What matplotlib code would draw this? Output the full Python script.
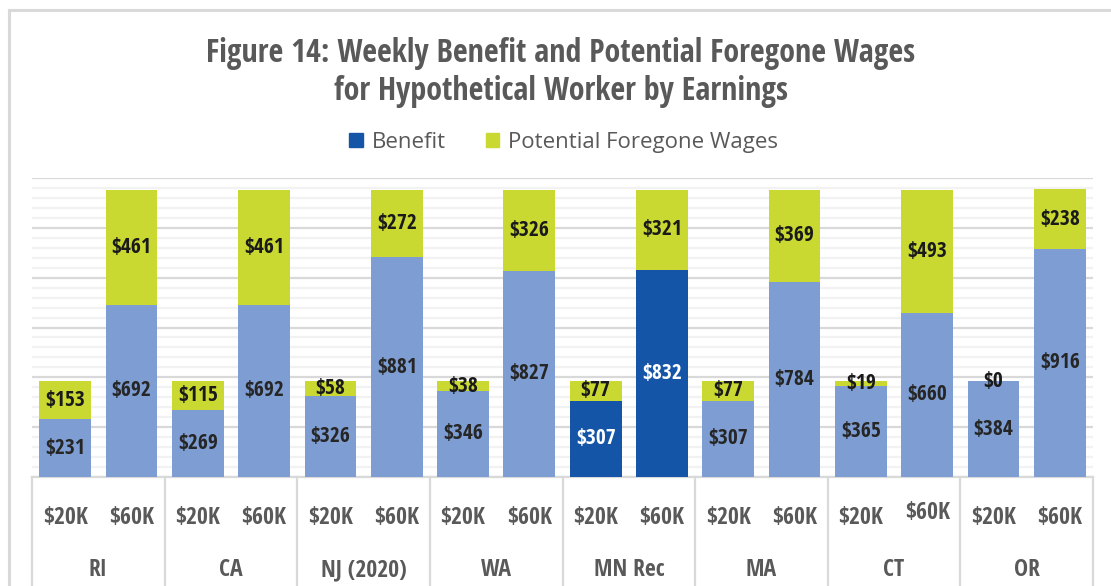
import numpy as np
import matplotlib.pyplot as plt
from matplotlib.transforms import blended_transform_factory
from matplotlib.lines import Line2D

states = ['RI', 'CA', 'NJ (2020)', 'WA', 'MN Rec', 'MA', 'CT', 'OR']
earnings = ['$20K', '$60K']
benefit = [231, 692, 269, 692, 326, 881, 346, 827, 307, 832, 307, 784, 365, 660, 384, 916]
foregone = [153, 461, 115, 461, 58, 272, 38, 326, 77, 321, 77, 369, 19, 493, 0, 238]

light_blue = '#7e9ed3'
dark_blue = '#1555a8'
green = '#c9d932'
gray_text = '#595959'
cond = ['Open Sans Condensed', 'DejaVu Sans']

fig = plt.figure(figsize=(11.11, 5.86), dpi=100)
ax = fig.add_axes([32 / 1111, 109 / 586, 1061 / 1111, 299 / 586])

x = np.arange(len(benefit))
ben_colors = [dark_blue if states[i // 2] == 'MN Rec' else light_blue for i in x]
ax.bar(x, benefit, width=0.78, color=ben_colors, zorder=3)
ax.bar(x, foregone, width=0.78, bottom=benefit, color=green, zorder=3)

for i in x:
    c = 'white' if states[i // 2] == 'MN Rec' else '#262626'
    ax.text(i, benefit[i] / 2, '$%d' % benefit[i], ha='center', va='center',
            family=cond, weight='bold', fontsize=15.5, color=c, zorder=4)
    ax.text(i, benefit[i] + foregone[i] / 2, '$%d' % foregone[i], ha='center',
            va='center', family=cond, weight='bold', fontsize=15.5,
            color='#1a1a1a', zorder=4)

ax.set_xlim(-0.5, len(benefit) - 0.5)
ax.set_ylim(0, 1200)
ax.set_yticks(np.arange(0, 1201, 200))
ax.set_yticks(np.arange(0, 1201, 40), minor=True)
ax.grid(axis='y', which='major', color='#d9d9d9', lw=1.6, zorder=0)
ax.grid(axis='y', which='minor', color='#f2f2f2', lw=1.6, zorder=0)
ax.tick_params(axis='y', which='both', left=False, labelleft=False)
ax.tick_params(axis='x', bottom=False, labelbottom=False)
for s in ['top', 'left', 'right']:
    ax.spines[s].set_visible(False)
ax.spines['bottom'].set_color('#d9d9d9')
ax.spines['bottom'].set_linewidth(1.6)

tr = blended_transform_factory(ax.transData, ax.transAxes)
for i in x:
    # CT $60K label sits a little higher in the original
    yy = -0.12 if i == 13 else -0.137
    ax.text(i, yy, earnings[i % 2], transform=tr, ha='center', va='center',
            family=cond, weight='bold', fontsize=17, color=gray_text)
for g, name in enumerate(states):
    ax.text(2 * g + 0.5, -0.311, name, transform=tr, ha='center', va='center',
            family=cond, weight='bold', fontsize=17, color=gray_text)
for b in np.arange(-0.5, len(benefit), 2):
    ax.add_line(Line2D([b, b], [0, -0.4], transform=tr, color='#d9d9d9',
                       lw=1.6, clip_on=False))

fig.add_artist(Line2D([9 / 1111, 9 / 1111], [0, 1 - 10 / 586], color='#d9d9d9', lw=2.2))
fig.add_artist(Line2D([9 / 1111, 1], [1 - 10 / 586, 1 - 10 / 586], color='#d9d9d9', lw=2.2))

fig.text(561 / 1111, 1 - 72 / 586,
         'Figure 14: Weekly Benefit and Potential Foregone Wages\nfor Hypothetical Worker by Earnings',
         ha='center', va='center', family=cond, weight='bold', fontsize=23,
         color=gray_text, linespacing=1.2)

handles = [plt.Rectangle((0, 0), 1, 1, color=dark_blue),
           plt.Rectangle((0, 0), 1, 1, color=green)]
fig.legend(handles, ['Benefit', 'Potential Foregone Wages'], loc='center',
           bbox_to_anchor=(563.5 / 1111, 1 - 142 / 586), ncol=2, frameon=False,
           prop={'family': 'Open Sans', 'size': 16}, labelcolor=gray_text,
           handlelength=0.6, handleheight=0.6, handletextpad=0.4,
           columnspacing=1.8, borderpad=0, borderaxespad=0)

fig.savefig('out.png', dpi=100)
